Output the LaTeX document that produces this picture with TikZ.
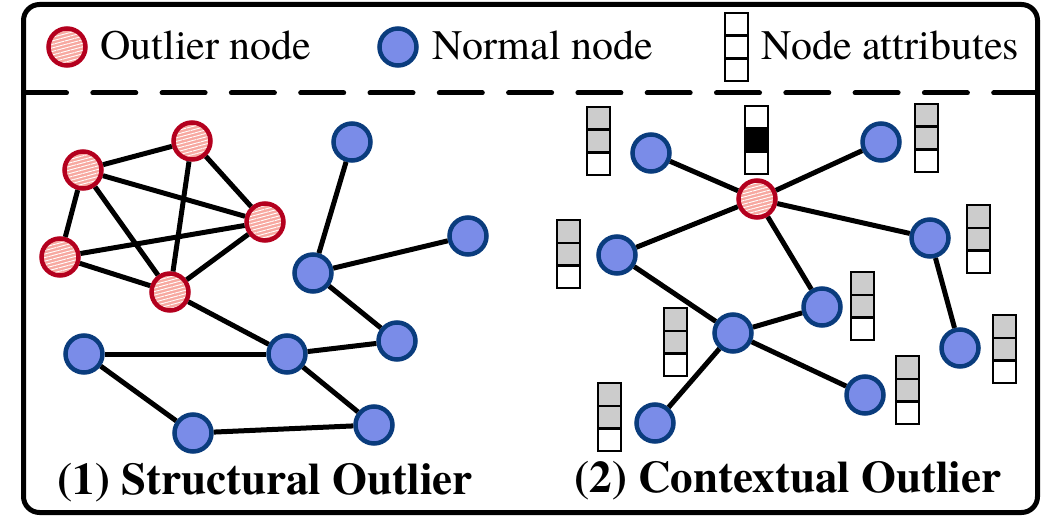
\documentclass[tikz,border=0pt]{standalone}
\usepackage{fontspec}
\setmainfont{texgyretermes}[Extension=.otf, UprightFont=*-regular,
    BoldFont=*-bold, ItalicFont=*-italic, BoldItalicFont=*-bolditalic]
\usepackage{xcolor}
\usepackage{tikz}
\usetikzlibrary{positioning}
\usetikzlibrary{patterns.meta}

\definecolor{normfill}{RGB}{122,140,232}
\definecolor{normline}{RGB}{10,60,125}
\definecolor{outfill}{RGB}{247,168,160}
\definecolor{outline}{RGB}{180,0,30}
\definecolor{attrgray}{RGB}{204,204,204}

% attribute column: top-left x, top y, three cell colours
\newcommand{\attrbox}[5]{%
  \draw[line width=2.4, fill=#3] (#1,#2) rectangle ++(23,22.7);
  \draw[line width=2.4, fill=#4] (#1,#2+22.7) rectangle ++(23,22.7);
  \draw[line width=2.4, fill=#5] (#1,#2+45.4) rectangle ++(23,22.7);
}

\begin{document}
\begin{tikzpicture}[x=1pt, y=-1pt, line width=5,
        normal/.style={circle, draw=normline, fill=normfill, line width=4.5,
            minimum size=37, inner sep=0},
        outlier/.style={circle, draw=outline, preaction={fill=outfill},
            pattern={Lines[angle=15, distance=3.4pt, line width=0.9pt]},
            pattern color=white, line width=4.5, minimum size=37, inner sep=0},
        link/.style={draw=black, line width=5},
        legend/.style={font=\fontsize{42}{48}\selectfont, anchor=base west, inner sep=0},
        title/.style={font=\fontsize{45}{52}\selectfont\bfseries, anchor=base, inner sep=0}]
    \useasboundingbox (0,0) rectangle (1046,516);

    % frame and legend
    \draw[line width=5, rounded corners=16] (23.5,4.5) rectangle (1037.5,512.5);
    \draw[line width=5, line cap=round, dash pattern=on 43 off 26.3]
        (23.5,93) -- (1037.5,93);

    \node [outlier] (keyout) at (67,47) {};
    \node [legend] (keyouttext) at (98,60) {Outlier node};
    \node [normal] (keynorm) at (398,47) {};
    \node [legend] (keynormtext) at (430,60) {Normal node};
    \attrbox{725}{13}{white}{white}{white}
    \node [legend] (keyattrtext) at (759,60) {Node attributes};

    % (1) structural outlier
    \node [outlier] (o1) at (83,170) {};
    \node [outlier] (o2) at (192,141) {};
    \node [outlier] (o3) at (265,222) {};
    \node [outlier] (o4) at (60,257) {};
    \node [outlier] (o5) at (170,292) {};
    \node [normal] (n1) at (352,142) {};
    \node [normal] (n2) at (313,273) {};
    \node [normal] (n3) at (468,236) {};
    \node [normal] (n4) at (397,341) {};
    \node [normal] (n5) at (84,354) {};
    \node [normal] (n6) at (287,354) {};
    \node [normal] (n7) at (193,433) {};
    \node [normal] (n8) at (374,425) {};

    \path [link] (o1) edge (o2);
    \path [link] (o1) edge (o3);
    \path [link] (o1) edge (o4);
    \path [link] (o1) edge (o5);
    \path [link] (o2) edge (o3);
    \path [link] (o2) edge (o5);
    \path [link] (o4) edge (o3);
    \path [link] (o4) edge (o5);
    \path [link] (o5) edge (o3);
    \path [link] (o5) edge (n6);
    \path [link] (n1) edge (n2);
    \path [link] (n2) edge (n3);
    \path [link] (n2) edge (n4);
    \path [link] (n5) edge (n6);
    \path [link] (n6) edge (n4);
    \path [link] (n5) edge (n7);
    \path [link] (n7) edge (n8);
    \path [link] (n6) edge (n8);

    \node [title] (structtitle) at (265,494) {(1) Structural Outlier};

    % (2) contextual outlier
    \attrbox{587}{107}{attrgray}{attrgray}{white}
    \attrbox{745}{106}{white}{black}{white}
    \attrbox{915}{104}{attrgray}{attrgray}{white}
    \attrbox{967}{205}{attrgray}{attrgray}{white}
    \attrbox{557}{220}{attrgray}{attrgray}{white}
    \attrbox{851}{272}{attrgray}{attrgray}{white}
    \attrbox{664}{308}{attrgray}{attrgray}{white}
    \attrbox{993}{315}{attrgray}{attrgray}{white}
    \attrbox{896}{356}{attrgray}{attrgray}{white}
    \attrbox{598}{383}{attrgray}{attrgray}{white}

    \node [outlier] (c0) at (757,199) {};
    \node [normal] (c1) at (651,153) {};
    \node [normal] (c2) at (881,142) {};
    \node [normal] (c3) at (930,238) {};
    \node [normal] (c4) at (960,348) {};
    \node [normal] (c5) at (865,395) {};
    \node [normal] (c6) at (733,333) {};
    \node [normal] (c7) at (822,307) {};
    \node [normal] (c8) at (655,423) {};
    \node [normal] (c9) at (617,255) {};

    \path [link] (c0) edge (c1);
    \path [link] (c0) edge (c2);
    \path [link] (c0) edge (c3);
    \path [link] (c0) edge (c7);
    \path [link] (c0) edge (c9);
    \path [link] (c3) edge (c4);
    \path [link] (c9) edge (c6);
    \path [link] (c6) edge (c7);
    \path [link] (c6) edge (c5);
    \path [link] (c6) edge (c8);

    \node [title] (contexttitle) at (788,492) {(2) Contextual Outlier};
\end{tikzpicture}
\end{document}
